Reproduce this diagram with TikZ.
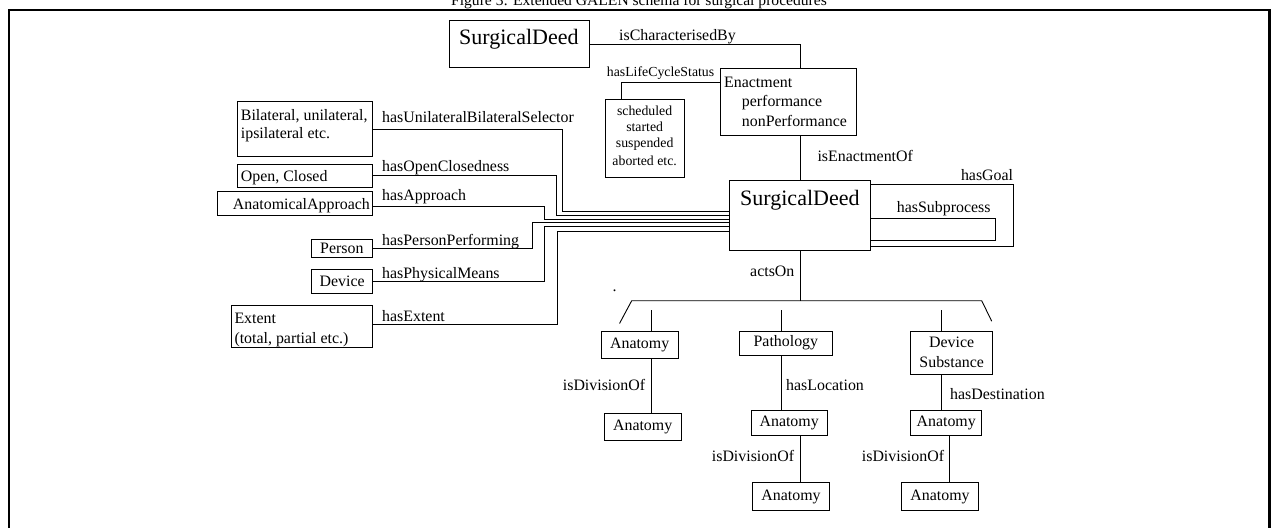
\documentclass[tikz,border=0pt]{standalone}
\usepackage{fontspec}
\setmainfont{Liberation Serif}
\newcommand\FBig{\fontsize{22}{26}\selectfont}
\newcommand\FNorm{\fontsize{15.9}{20}\selectfont}
\newcommand\FSmall{\fontsize{13.8}{16.4}\selectfont}
\newcommand\FTitle{\fontsize{15.6}{18}\selectfont}
\tikzset{
  box/.style={draw, line width=0.9pt, inner sep=0pt, font=\FNorm, align=center},
  conn/.style={line width=0.9pt},
  txt/.style={inner sep=0pt, anchor=base west, font=\FNorm},
  ctxt/.style={inner sep=0pt, anchor=base, font=\FNorm},
  stxt/.style={inner sep=0pt, anchor=base, font=\FSmall},
}
\begin{document}
\begin{tikzpicture}[x=1pt,y=-1pt]
\useasboundingbox (0,0) rectangle (1273,527);
\clip (0,0) rectangle (1273,527);
% title and frame
\node[inner sep=0pt, anchor=base, font=\FTitle] (title) at (639,6) {Figure 3: Extended GALEN schema for surgical procedures};
\draw[line width=2.4pt] (9.2,540) -- (9.2,10.3) -- (1269.5,10.3) -- (1269.5,540);

% boxes
\node[box, minimum width=139.7, minimum height=46.6] (sd1) at (519.15,44) {};
\node[box, minimum width=136, minimum height=66.5] (enact) at (788.7,101.75) {};
\node[box, minimum width=79.3, minimum height=78] (sched) at (644.65,138.3) {};
\node[box, minimum width=141.4, minimum height=69.3] (sd) at (800,215.35) {};
\node[box, minimum width=135, minimum height=55] (bil) at (305.2,129.2) {};
\node[box, minimum width=135, minimum height=23.7] (oc) at (305.2,175.85) {};
\node[box, minimum width=155.4, minimum height=24] (aa) at (295,203.7) {};
\node[box, minimum width=61.7, minimum height=18.7] (per) at (341.85,248.35) {Person};
\node[box, minimum width=61, minimum height=24] (dev) at (342.2,281.3) {Device};
\node[box, minimum width=141, minimum height=42] (ext) at (302.2,326.7) {};
\node[box, minimum width=77.3, minimum height=27.3] (an1) at (639.65,344.65) {Anatomy};
\node[box, minimum width=76.7, minimum height=27.4] (an1b) at (642.65,427) {Anatomy};
\node[box, minimum width=93.7, minimum height=24] (pat) at (785.85,343) {Pathology};
\node[box, minimum width=76.3, minimum height=25.7] (an2) at (789.15,422.85) {Anatomy};
\node[box, minimum width=76.6, minimum height=28] (an2b) at (791,496.7) {Anatomy};
\node[box, minimum width=82, minimum height=43] (ds) at (951.7,352.5) {Device\\Substance};
\node[box, minimum width=71, minimum height=25.7] (an3) at (946.2,422.85) {Anatomy};
\node[box, minimum width=76.6, minimum height=28] (an3b) at (940,496.7) {Anatomy};

% texts inside boxes
\node[txt, font=\FBig] (tsd1) at (459,44.3) {SurgicalDeed};
\node[txt, font=\FBig] (tsd) at (740,205) {SurgicalDeed};
\node[txt] (te1) at (724,87) {Enactment};
\node[txt] (te2) at (741.7,106.7) {performance};
\node[txt] (te3) at (741.7,126) {nonPerformance};
\node[stxt] (ts1) at (644.65,115.7) {scheduled};
\node[stxt] (ts2) at (644.65,131.7) {started};
\node[stxt] (ts3) at (644.65,147.7) {suspended};
\node[stxt] (ts4) at (644.65,165) {aborted etc.};
\node[txt] (tb1) at (240.7,120.7) {Bilateral, unilateral,};
\node[txt] (tb2) at (240.7,138) {ipsilateral etc.};
\node[txt] (toc) at (240.7,181.7) {Open, Closed};
\node[ctxt] (taa) at (301.4,209) {AnatomicalApproach};
\node[txt] (tx1) at (234.3,323.3) {Extent};
\node[txt] (tx2) at (234.3,343.3) {(total, partial etc.)};

% connectors top
\draw[conn] (sd1.east) -| (sd.north |- enact.north);
\draw[conn] ([yshift=-14.2pt]enact.north west) -| ([xshift=16.7pt]sched.north west);
\draw[conn] (sd.north) -- (sd.north |- enact.south);
\coordinate (g) at (1013.3,246.7);
\draw[conn] ([yshift=-4.3pt]sd.north east) -| (g) -- (g -| sd.east);
\coordinate (s) at (995,240);
\draw[conn] ([yshift=-38.3pt]sd.north east) -| (s) -- (s -| sd.east);

% actsOn and bar
\coordinate (bar) at (800,300.7);
\coordinate (bl) at (631.7,300.7);
\coordinate (br) at (981.7,300.7);
\coordinate (bld) at (619.5,323.5);
\coordinate (brd) at (991.7,321.2);
\draw[conn] (sd.south) -- (bar);
\draw[conn] (bld) -- (bl) -- (br) -- (brd);
\draw[conn] ([xshift=12pt]an1.north) -- ++(0,-21);
\draw[conn] ([xshift=-4.15pt]pat.north) -- ++(0,-21);
\draw[conn] ([xshift=-10.7pt]ds.north) -- ++(0,-21);

% lower connectors
\coordinate (c1) at ([xshift=12pt]an1.south);
\draw[conn] (c1) -- (c1 |- an1b.north);
\coordinate (c2) at ([xshift=-4.15pt]pat.south);
\draw[conn] (c2) -- (c2 |- an2.north);
\coordinate (c3) at ([xshift=10.85pt]an2.south);
\draw[conn] (c3) -- (c3 |- an2b.north);
\coordinate (c4) at ([xshift=-10.7pt]ds.south);
\draw[conn] (c4) -- (c4 |- an3.north);
\coordinate (c5) at ([xshift=2.8pt]an3.south);
\draw[conn] (c5) -- (c5 |- an3b.north);

% bundle on the left
\coordinate (p1) at ([yshift=4.35pt]sd.west);
\coordinate (p2) at ([yshift=0.35pt]sd.west);
\coordinate (p3) at ([yshift=-3.65pt]sd.west);
\coordinate (p4) at ([yshift=-7.35pt]sd.west);
\coordinate (p5) at ([yshift=-11.35pt]sd.west);
\coordinate (p6) at ([yshift=-15.65pt]sd.west);
\coordinate (k1) at (562.7,0);
\coordinate (k2) at (556.7,0);
\coordinate (k3) at (544.3,0);
\coordinate (k4) at (532,0);
\coordinate (k5) at (544.3,0);
\coordinate (k6) at (557,0);
\draw[conn] (bil.east) -| (k1 |- p1) -- (p1);
\draw[conn] (oc.east) -| (k2 |- p2) -- (p2);
\draw[conn] ([yshift=-3pt]aa.east) -| (k3 |- p3) -- (p3);
\draw[conn] (per.east) -| (k4 |- p4) -- (p4);
\draw[conn] (dev.east) -| (k5 |- p5) -- (p5);
\draw[conn] ([yshift=2.4pt]ext.east) -| (k6 |- p6) -- (p6);

% connector labels
\node[txt] (l1) at (619,40.7) {isCharacterisedBy};
\node[txt, font=\FSmall] (l2) at (606.7,77) {hasLifeCycleStatus};
\node[txt] (l3) at (817.3,161.7) {isEnactmentOf};
\node[inner sep=0pt, anchor=base east, font=\FNorm] (l4) at (1013.3,180.7) {hasGoal};
\node[txt] (l5) at (896.7,212.3) {hasSubprocess};
\node[txt] (l6) at (750,276.7) {actsOn};
\node[txt] (l7) at (382,122.7) {hasUnilateralBilateralSelector};
\node[txt] (l8) at (382,171.7) {hasOpenClosedness};
\node[txt] (l9) at (382,200) {hasApproach};
\node[txt] (l10) at (382,245) {hasPersonPerforming};
\node[txt] (l11) at (382,278.3) {hasPhysicalMeans};
\node[txt] (l12) at (382,321.7) {hasExtent};
\node[txt] (l13) at (562.7,390.7) {isDivisionOf};
\node[txt] (l14) at (786,390.7) {hasLocation};
\node[txt] (l15) at (711.7,461.7) {isDivisionOf};
\node[txt] (l16) at (950,399) {hasDestination};
\node[txt] (l17) at (861.7,461.7) {isDivisionOf};
\node[txt] (dot) at (612.5,291) {.};
\end{tikzpicture}
\end{document}
